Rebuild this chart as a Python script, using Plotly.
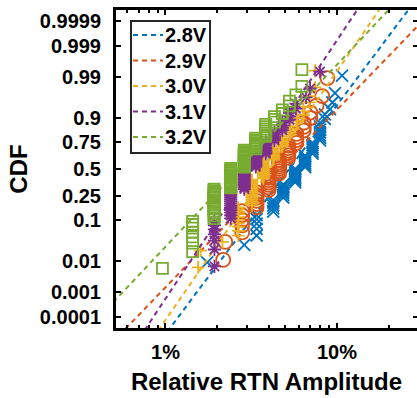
import numpy as np
import plotly.graph_objects as go
from statistics import NormalDist

# ---------------- data ----------------
SERIES_NAMES = ["2.8V", "2.9V", "3.0V", "3.1V", "3.2V"]

# relative RTN amplitude (%) : distinct levels and number of samples at each level
AMP_28_LEVELS = [1.75, 2.88, 3.40, 4.25, 4.86, 5.70, 6.52, 7.20, 7.96, 8.50, 9.10, 9.40, 9.73, 10.7]
AMP_28_COUNTS = [1, 1, 5, 5, 7, 8, 7, 6, 7, 2, 1, 1, 1, 1]

AMP_29_LEVELS = [2.17, 2.23, 2.80, 3.40, 4.00, 4.60, 5.20, 5.80, 6.40, 7.00, 7.60, 8.20, 8.80]
AMP_29_COUNTS = [1, 1, 5, 6, 7, 7, 6, 4, 3, 2, 1, 1, 1]

AMP_30_LEVELS = [1.55, 1.60, 2.15, 2.66, 3.19, 3.72, 4.26, 4.79, 5.32, 5.85, 6.38, 6.92, 7.45]
AMP_30_COUNTS = [1, 1, 1, 10, 17, 14, 9, 7, 5, 3, 3, 2, 2]

AMP_31_LEVELS = [1.93, 2.40, 2.88, 3.36, 3.84, 4.32, 4.80, 5.28, 5.76, 6.60, 6.97, 7.96]
AMP_31_COUNTS = [7, 14, 15, 9, 8, 5, 4, 3, 2, 1, 1, 1]

AMP_32_LEVELS = [0.96, 1.44, 1.92, 2.40, 2.88, 3.36, 3.84, 4.32, 4.80, 5.28, 5.76, 6.24]
AMP_32_COUNTS = [1, 7, 17, 16, 14, 8, 7, 3, 2, 2, 1, 2]

# fitted normal (log10 of amplitude in %) lines: median and slope (sigma units per decade)
FIT_MU_LOG10 = [0.721, 0.666, 0.607, 0.502, 0.427]
FIT_SLOPE = [5.76, 4.47, 6.26, 6.50, 4.58]

CDF_TICKS = [0.0001, 0.001, 0.01, 0.1, 0.25, 0.5, 0.75, 0.9, 0.99, 0.999, 0.9999]
CDF_TICK_LABELS = ["0.0001", "0.001", "0.01", "0.1", "0.25", "0.5", "0.75", "0.9", "0.99", "0.999", "0.9999"]
X_TICKS = [1, 10]
X_TICK_LABELS = ["1%", "10%"]
X_MINOR_TICKS = [0.6, 0.7, 0.8, 0.9, 2, 3, 4, 5, 6, 7, 8, 9, 20]

# ---------------- style ----------------
COLORS = ["#0072BD", "#D95319", "#EDB120", "#7E2F8E", "#77AC30"]
SYMBOLS = ["x-thin-open", "circle-open", "cross-thin-open", "asterisk-open", "square-open"]
SIZES = [12, 14, 9, 11, 11]
FONT = "Liberation Sans, Arial, Helvetica, sans-serif"
DASH = "5px,4px"

nd = NormalDist()
levels = [AMP_28_LEVELS, AMP_29_LEVELS, AMP_30_LEVELS, AMP_31_LEVELS, AMP_32_LEVELS]
counts = [AMP_28_COUNTS, AMP_29_COUNTS, AMP_30_COUNTS, AMP_31_COUNTS, AMP_32_COUNTS]

fig = go.Figure()
Z_LO, Z_HI = -4.0, 4.0

for k in range(5):
    amps = np.repeat(np.array(levels[k], float), counts[k])
    amps = np.sort(amps)
    n = len(amps)
    p = (np.arange(1, n + 1) - 0.5) / n  # empirical CDF plotting positions
    z = np.array([nd.inv_cdf(v) for v in p])
    fig.add_trace(go.Scatter(
        x=amps, y=z, mode="markers", showlegend=False, hoverinfo="skip",
        marker=dict(symbol=SYMBOLS[k], size=SIZES[k], color=COLORS[k],
                    line=dict(color=COLORS[k], width=1.8)),
    ))
    zz = np.array([Z_LO - 1, Z_HI + 1])
    xx = 10 ** (FIT_MU_LOG10[k] + zz / FIT_SLOPE[k])
    fig.add_trace(go.Scatter(
        x=xx, y=zz, mode="lines", name=SERIES_NAMES[k], hoverinfo="skip", showlegend=False,
        line=dict(color=COLORS[k], width=2, dash=DASH),
    ))

ytickvals = [nd.inv_cdf(v) for v in CDF_TICKS]

# empty trace to attach the right-hand tick axis
fig.add_trace(go.Scatter(x=[], y=[], yaxis="y2", showlegend=False, hoverinfo="skip"))

# plot area: x 116..417, y 10..328 (pixels)
PL, PR, PT, PB = 116, 417, 10, 328
def px(xp):
    return (xp - PL) / (PR - PL)
def py(yp):
    return (PB - yp) / (PB - PT)

# legend (box, dashed samples, labels)
LEG_X0, LEG_X1, LEG_Y0, LEG_Y1 = 131, 210, 21, 153
LEG_ROW0, LEG_ROW_STEP = 35, 25.5
shapes = [dict(type="rect", xref="paper", yref="paper",
               x0=px(LEG_X0), x1=px(LEG_X1), y0=py(LEG_Y1), y1=py(LEG_Y0),
               fillcolor="white", line=dict(color="#262626", width=2), layer="above")]
annotations = []
for k, name in enumerate(SERIES_NAMES):
    yc = LEG_ROW0 + k * LEG_ROW_STEP
    shapes.append(dict(type="line", xref="paper", yref="paper",
                       x0=px(133), x1=px(163), y0=py(yc), y1=py(yc),
                       line=dict(color=COLORS[k], width=2, dash=DASH), layer="above"))
    annotations.append(dict(text=name, xref="paper", yref="paper", x=px(163), y=py(yc),
                            xanchor="left", yanchor="middle", showarrow=False,
                            font=dict(family=FONT, size=20, color="black", weight="bold")))

fig.update_layout(
    width=417, height=398,
    margin=dict(l=PL, r=417 - PR, t=PT, b=398 - PB),
    paper_bgcolor="white", plot_bgcolor="white",
    font=dict(family=FONT, size=20, color="black", weight="bold"),
    showlegend=False,
    shapes=shapes, annotations=annotations,
    xaxis=dict(type="log", range=[-0.2886, 1.4665], tickvals=X_TICKS, ticktext=X_TICK_LABELS,
               automargin=False,
               ticks="inside", ticklen=5, tickwidth=2, tickcolor="black",
               showline=True, linewidth=3, linecolor="black", mirror="ticks",
               showgrid=False, zeroline=False,
               minor=dict(ticks="inside", ticklen=3, tickwidth=2, tickcolor="black",
                          tickvals=X_MINOR_TICKS, showgrid=False),
               tickfont=dict(family=FONT, size=20, color="black", weight="bold"),
               ticklabelstandoff=4,
               title=dict(text="Relative RTN Amplitude", standoff=12,
                          font=dict(family=FONT, size=24, color="black", weight="bold"))),
    yaxis=dict(range=[Z_LO, Z_HI], tickvals=ytickvals, ticktext=CDF_TICK_LABELS,
               automargin=False,
               ticks="inside", ticklen=5, tickwidth=2, tickcolor="black",
               showline=True, linewidth=3, linecolor="black", mirror=False,
               showgrid=False, zeroline=False,
               tickfont=dict(family=FONT, size=20, color="black", weight="bold"),
               ticklabelstandoff=8,
               title=dict(text="CDF", standoff=6,
                          font=dict(family=FONT, size=24, color="black", weight="bold"))),
    yaxis2=dict(range=[Z_LO, Z_HI], tickvals=ytickvals, overlaying="y", side="right",
                anchor="x", automargin=False, ticks="inside", ticklen=4, tickwidth=2, tickcolor="black",
                showticklabels=False, showline=False, showgrid=False, zeroline=False),
)

fig.write_html("out.html", config={"displayModeBar": False},
               post_script="document.body.style.margin='0';document.body.style.padding='0';")
